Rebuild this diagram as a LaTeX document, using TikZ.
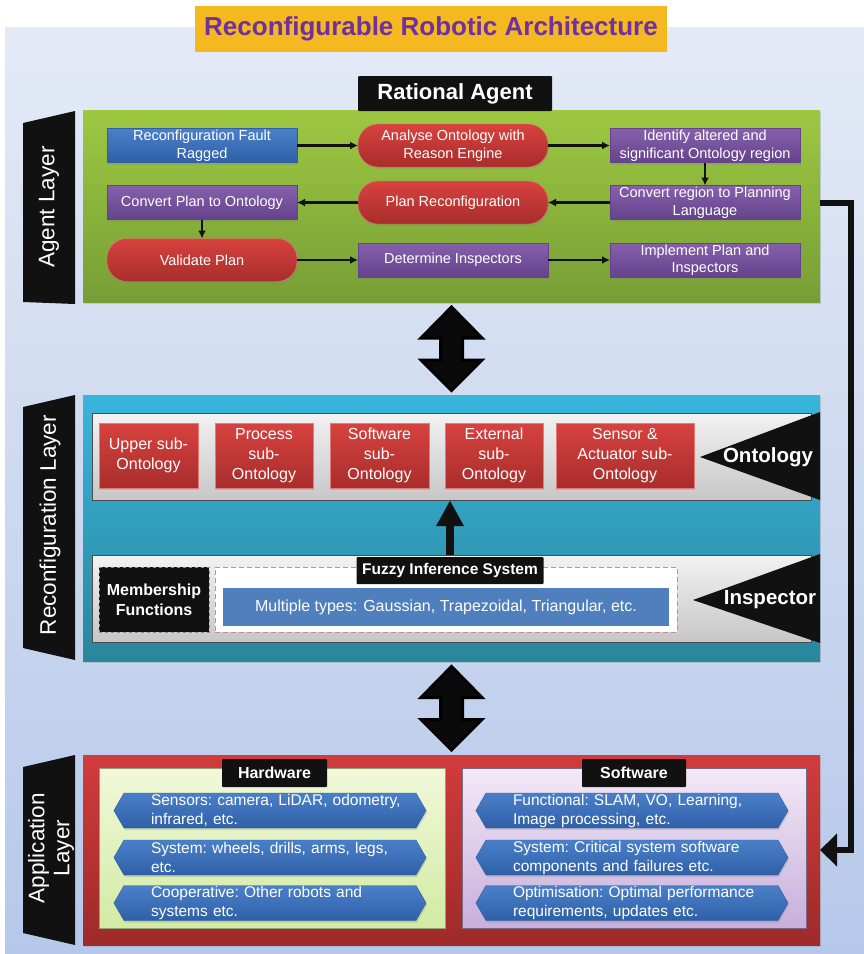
\documentclass[tikz,border=0pt]{standalone}
\usepackage{fontspec}
\setmainfont{Liberation Sans}
\usetikzlibrary{arrows.meta,positioning,shapes.symbols,shadows,calc}
\definecolor{Gold}{HTML}{F4B821}
\definecolor{TitlePurple}{HTML}{7030A0}
\definecolor{PanelTop}{HTML}{E4EAF6}
\definecolor{PanelBottom}{HTML}{B6C8EA}
\definecolor{LeafTop}{HTML}{9DC841}
\definecolor{LeafBottom}{HTML}{779E36}
\definecolor{SkyTop}{HTML}{39B5DC}
\definecolor{SkyBottom}{HTML}{29869C}
\definecolor{BrickTop}{HTML}{D13C3B}
\definecolor{BrickBottom}{HTML}{9E2A2A}
\definecolor{BlueTop}{HTML}{4A80C9}
\definecolor{BlueBottom}{HTML}{2F60A7}
\definecolor{VioletTop}{HTML}{8660AC}
\definecolor{VioletBottom}{HTML}{65428C}
\definecolor{RedTop}{HTML}{D7423F}
\definecolor{RedBottom}{HTML}{A82D2B}
\definecolor{SteelBlue}{HTML}{4F7FBC}
\definecolor{DashRed}{HTML}{D48A8A}
\definecolor{PaleLime}{HTML}{F1F8DA}
\definecolor{Lime}{HTML}{D2EBA3}
\definecolor{PaleLilac}{HTML}{F3E9F7}
\definecolor{Lilac}{HTML}{C8AFDC}
\definecolor{Ink}{HTML}{111111}
\tikzset{
  titlebox/.style={fill=Gold, text=TitlePurple, font=\bfseries\fontsize{26}{30}\selectfont, minimum width=472pt, minimum height=46pt, inner sep=0pt},
  blacktag/.style={fill=Ink, text=white, font=\bfseries\fontsize{16}{19}\selectfont, inner sep=0pt, rounded corners=1pt, align=center},
  layerlabel/.style={text=white, font=\fontsize{22.5}{25}\selectfont, rotate=90, align=center},
  sidelabel/.style={text=white, font=\bfseries\fontsize{20.5}{24}\selectfont},
  softshadow/.style={drop shadow={opacity=.25, shadow xshift=1pt, shadow yshift=-2pt}},
  layerbox/.style={minimum width=737pt, inner sep=0pt, outer sep=0pt, softshadow},
  flowbox/.style={minimum width=190pt, minimum height=34pt, inner sep=1pt, outer sep=0pt, text=white, align=center, font=\fontsize{14.5}{17.5}\selectfont, softshadow},
  bluebox/.style={flowbox, top color=BlueTop, bottom color=BlueBottom, draw=BlueBottom},
  violetbox/.style={flowbox, top color=VioletTop, bottom color=VioletBottom, draw=VioletBottom},
  redpill/.style={flowbox, minimum height=43pt, rounded corners=20pt, top color=RedTop, bottom color=RedBottom, draw=RedTop!70!white},
  subbox/.style={top color=RedTop, bottom color=RedBottom, draw=RedTop!70!white, text=white, align=center, minimum height=65pt, inner sep=1pt, font=\fontsize{16}{20}\selectfont, softshadow},
  graybar/.style={top color=black!5, bottom color=black!22, draw=black!70, minimum width=719pt, minimum height=87pt, inner sep=0pt},
  hexitem/.style={signal, signal to=east and west, signal from=nowhere, signal pointer angle=120, top color=BlueTop, bottom color=BlueBottom, draw=BlueBottom, text=white, text width=290pt, align=left, inner xsep=1pt, inner ysep=0pt, minimum height=35pt, font=\fontsize{15.5}{19}\selectfont, execute at begin node={\frenchspacing\leftskip=26pt}, softshadow},
  arr/.style={-{Latex[length=8pt,width=8pt]}, line width=2.2pt, draw=Ink},
  bigup/.style={-{Triangle[length=26pt,width=26pt]}, line width=8pt, draw=Ink},
  feedback/.style={-{Triangle[length=17pt,width=32pt]}, line width=6pt, draw=Ink},
  updown/.pic={
    \filldraw[fill=black!96, draw=black, line width=3pt, line join=miter]
      (0,-41.5) -- (30.5,-10.5) -- (11,-10.5) -- (11,11.5) -- (30.5,11.5) -- (0,42)
      -- (-30.5,11.5) -- (-11,11.5) -- (-11,-10.5) -- (-30.5,-10.5) -- cycle;
  }
}

\begin{document}
\begin{tikzpicture}[x=1pt,y=-1pt]
\useasboundingbox (0,0) rectangle (864,954);
\fill[top color=PanelTop, bottom color=PanelBottom] (5,27) rectangle (864,954);
\node[titlebox] (title) at (431,29) {Reconfigurable Robotic Architecture};

% agent layer
\node[layerbox, minimum height=192pt, top color=LeafTop, bottom color=LeafBottom] (agent) at (451.5,206) {};
\node[blacktag, font=\bfseries\fontsize{22}{26}\selectfont, minimum width=194pt, minimum height=35pt] (rational) at (455,93.5) {Rational Agent};
\fill[Ink] (23,123) -- (75,111) -- (75,304) -- (23,302) -- cycle;
\node[layerlabel] (agentlbl) at (49,207) {Agent Layer};

\node[bluebox] (fault) at (202,145.5) {Reconfiguration Fault\\Ragged};
\node[redpill, right=61pt of fault] (analyse) {Analyse Ontology with\\Reason Engine};
\node[violetbox, right=62pt of analyse] (identify) {Identify altered and\\significant Ontology region};
\node[violetbox, below=23pt of fault] (convplan) {Convert Plan to Ontology};
\node[redpill, right=61pt of convplan] (planreconf) {Plan Reconfiguration};
\node[violetbox, right=62pt of planreconf] (convregion) {Convert region to Planning\\Language};
\node[redpill, below=19pt of convplan] (validate) {Validate Plan};
\node[violetbox, right=61pt of validate] (determine) {Determine Inspectors};
\node[violetbox, right=62pt of determine] (implement) {Implement Plan and\\Inspectors};

\draw[arr] (fault) -- (analyse);
\draw[arr] (analyse) -- (identify);
\draw[arr] (identify) -- (convregion);
\draw[arr] (convregion) -- (planreconf);
\draw[arr] (planreconf) -- (convplan);
\draw[arr] (convplan) -- (validate);
\draw[arr] (validate) -- (determine);
\draw[arr] (determine) -- (implement);

% reconfiguration layer
\node[layerbox, minimum height=266pt, top color=SkyTop, bottom color=SkyBottom] (reconf) at (451.5,528) {};
\fill[Ink] (23,407) -- (75,395) -- (75,660) -- (23,648) -- cycle;
\node[layerlabel] (reconflbl) at (50,525) {Reconfiguration Layer};

\node[graybar] (ontbar) at (451.5,456.5) {};
\node[subbox, minimum width=99pt] (upper) at (148.5,455.5) {Upper sub-\\Ontology};
\node[subbox, minimum width=98pt] (process) at (264,455.5) {Process\\sub-\\Ontology};
\node[subbox, minimum width=99pt] (software) at (379.5,455.5) {Software\\sub-\\Ontology};
\node[subbox, minimum width=98pt] (external) at (494,455.5) {External\\sub-\\Ontology};
\node[subbox, minimum width=138pt] (sensor) at (625,455.5) {Sensor \&\\Actuator sub-\\Ontology};
\fill[Ink] (700,457) -- (820,412) -- (820,500) -- cycle;
\node[sidelabel] (ontlbl) at (768,457) {Ontology};

\node[graybar] (insbar) at (451.5,598.5) {};
\node[blacktag, draw=black!45, dashed, minimum width=110pt, minimum height=65pt, rounded corners=0pt, font=\bfseries\fontsize{16}{20}\selectfont] (member) at (154,599.5) {Membership\\Functions};
\node[draw=DashRed, dash pattern=on 5pt off 3pt, line width=1pt, fill=white, minimum width=462pt, minimum height=65pt] (fisarea) at (446,599.5) {};
\node[fill=SteelBlue, text=white, minimum width=446pt, minimum height=38pt, font=\fontsize{16}{19}\selectfont] (types) at (446,607) {Multiple types: Gaussian, Trapezoidal, Triangular, etc.};
\node[blacktag, minimum width=187pt, minimum height=27pt, font=\bfseries\fontsize{15.5}{18}\selectfont] (fis) at (450,570.5) {Fuzzy Inference System};
\fill[Ink] (693,600) -- (820,554) -- (820,643) -- cycle;
\node[sidelabel] (insplbl) at (770,600) {Inspector};

\draw[bigup] (fis.north |- insbar.north) -- (fis.north |- ontbar.south);

% application layer
\node[layerbox, minimum height=190pt, top color=BrickTop, bottom color=BrickBottom] (applayer) at (451.5,850) {};
\fill[Ink] (23,767) -- (75,755) -- (75,945) -- (23,933) -- cycle;
\node[layerlabel] (applbl) at (51,848) {Application\\Layer};

\node[top color=PaleLime, bottom color=Lime, draw=Lime!70!black, minimum width=346pt, minimum height=160pt] (hwpanel) at (272,848) {};
\node[top color=PaleLilac, bottom color=Lilac, draw=Lilac!60!black, minimum width=344pt, minimum height=160pt] (swpanel) at (634,848) {};
\node[blacktag, minimum width=105pt, minimum height=28pt] (hwtag) at (274.5,773) {Hardware};
\node[blacktag, minimum width=104pt, minimum height=28pt] (swtag) at (634,773) {Software};

\node[hexitem] (hw1) at (270,810.5) {Sensors: camera, LiDAR, odometry,\\infrared, etc.};
\node[hexitem] (hw2) at (270,857.5) {System: wheels, drills, arms, legs,\\etc.};
\node[hexitem] (hw3) at (270,903) {Cooperative: Other robots and\\systems etc.};
\node[hexitem] (sw1) at (632,810.5) {Functional: SLAM, VO, Learning,\\Image processing, etc.};
\node[hexitem] (sw2) at (632,857.5) {System: Critical system software\\components and failures etc.};
\node[hexitem] (sw3) at (632,903) {Optimisation: Optimal performance\\requirements, updates etc.};

% links between layers
\pic at ($(agent.south)!.5!(reconf.north)$) {updown};
\pic at ($(reconf.south)!.5!(applayer.north)$) {updown};
\draw[feedback] (agent.east |- convregion.east) -- ++(31,0) |- (applayer.east);
\end{tikzpicture}
\end{document}
